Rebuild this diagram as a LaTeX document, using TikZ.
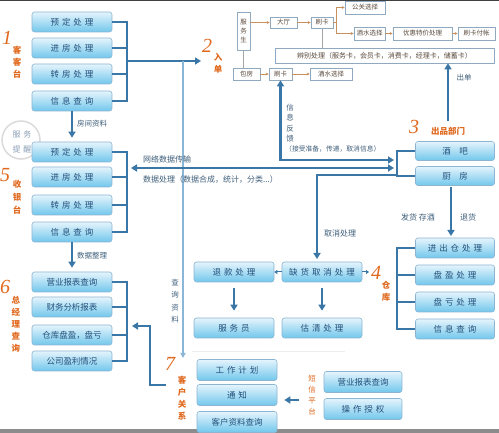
\documentclass[tikz,border=0pt]{standalone}
\usepackage{fontspec}
\usetikzlibrary{arrows.meta,calc}
\newfontfamily\cjk{Noto Sans CJK SC}
\newfontfamily\boxfont[LetterSpace=35]{Noto Sans CJK SC}
\newfontfamily\numfont{Liberation Serif}
\definecolor{lnblue}{HTML}{3A77A6}
\definecolor{bxtop}{HTML}{E4F4FC}
\definecolor{bxbot}{HTML}{72C7EC}
\definecolor{bxdraw}{HTML}{8DB5D2}
\definecolor{bxtext}{HTML}{23507A}
\definecolor{orng}{HTML}{E0691E}
\definecolor{smtext}{HTML}{5B4B3E}
\definecolor{smdraw}{HTML}{8FAAC0}
\definecolor{smarr}{HTML}{C8905E}
\definecolor{lblue}{HTML}{8AB6D8}
\definecolor{lbltext}{HTML}{3F5F7A}
\definecolor{circtext}{HTML}{8A9FB5}
\begin{document}
\begin{tikzpicture}[x=1pt,y=-1pt,
 bx/.style={rectangle,rounded corners=2.5pt,draw=bxdraw,line width=0.6pt,top color=bxtop,bottom color=bxbot,minimum width=80pt,minimum height=20pt,inner sep=0pt,text=bxtext,font=\boxfont\fontsize{8.5}{10}\selectfont},
 bxn/.style={bx,font=\cjk\fontsize{8.5}{10}\selectfont},
 sb/.style={rectangle,draw=smdraw,fill=white,line width=0.6pt,inner sep=1pt,minimum height=12pt,text=smtext,font=\cjk\fontsize{6.5}{9}\selectfont,align=center},
 ln/.style={draw=lnblue,line width=2.2pt},
 ar/.style={ln,-{Triangle[length=6pt,width=7pt]}},
 arr2/.style={ln,{Triangle[length=6pt,width=7pt]}-{Triangle[length=6pt,width=7pt]}},
 tinyar/.style={draw=lnblue,line width=1pt,-{Triangle[length=3pt,width=4pt]}},
 qline/.style={draw=lblue,line width=1.3pt,-{Triangle[length=5pt,width=5pt]}},
 sa/.style={draw=smarr,line width=0.6pt,-{Stealth[length=3pt,width=3pt]}},
 sl/.style={draw=black!35,line width=0.6pt},
 num/.style={text=orng,font=\numfont\itshape\fontsize{20}{20}\selectfont,inner sep=0pt},
 ol/.style={text=orng,font=\cjk\bfseries\fontsize{8.5}{12}\selectfont,inner sep=0pt,align=center},
 olr/.style={text=orng,font=\cjk\fontsize{7.5}{11}\selectfont,inner sep=0pt,align=center},
 lb/.style={text=lbltext,font=\cjk\fontsize{7.5}{11}\selectfont,inner sep=0pt,align=center},
]
\useasboundingbox (0,0) rectangle (499,433);
\fill[white] (0,0) rectangle (499,433);
\fill[black!75] (0,0) rectangle (499,1.5);
\fill[black!45] (0,429) rectangle (499,433);

% service reminder circle
\draw[black!14,line width=1.5pt] (21,140) circle (19);
\node[text=circtext,font=\boxfont\fontsize{8}{10}\selectfont,inner sep=0pt] (cr1) at (22,134) {服务};
\node[text=circtext,font=\boxfont\fontsize{8}{10}\selectfont,inner sep=0pt] (cr2) at (22,149) {提醒};

% group 1
\node[bx] (a1) at (72,22) {预定处理};
\node[bx] (a2) at (72,48) {进房处理};
\node[bx] (a3) at (72,74) {转房处理};
\node[bx] (a4) at (72,101) {信息查询};
\coordinate (b1b) at (127,101);
\coordinate (b1m) at (127,61);
\draw[ln] (a1.east) -| (b1b) -- (a4.east);
\draw[ln] (a2.east) -- (a2.east -| b1m);
\draw[ln] (a3.east) -- (a3.east -| b1m);
\coordinate (in2) at (201,61);
\draw[ar] (b1m) -- (in2);
\node[num] (n1) at (7,38) {1};
\node[ol] (l1) at (17,62) {客\\客\\台};
\node[num] (n2) at (207,46) {2};
\node[ol] (l2) at (218,63) {入\\单};

% query line
\coordinate (q0) at (183,61);
\coordinate (q1) at (183,358);
\draw[qline] (q0) -- (q1);
\node[lb,font=\cjk\fontsize{7.5}{12.5}\selectfont] (qlab) at (175,301) {查\\询\\资\\料};

% group 5
\node[bx] (e1) at (72,152) {预定处理};
\node[bx] (e2) at (72,177) {进房处理};
\node[bx] (e3) at (72,205) {转房处理};
\node[bx] (e4) at (72,232) {信息查询};
\draw[ln] (e1.east) -| (127,232) -- (e4.east);
\draw[ln] (e2.east) -- (e2.east -| b1m);
\draw[ln] (e3.east) -- (e3.east -| b1m);
\draw[ar,shorten >=4pt] (a4.south) -- (e1.north);
\node[lb,anchor=west] (t1) at (77,124) {房间资料};
\node[num] (n5) at (5,175) {5};
\node[ol,font=\cjk\bfseries\fontsize{8.5}{13}\selectfont] (l5) at (17,197) {收\\银\\台};

% group 6
\node[bxn] (f1) at (72,282) {营业报表查询};
\node[bxn] (f2) at (72,307) {财务分析报表};
\node[bxn] (f3) at (72,335) {仓库盘盈，盘亏};
\node[bxn] (f4) at (72,361) {公司盈利情况};
\draw[ln] (f1.east) -| (127,361) -- (f4.east);
\draw[ln] (f2.east) -- (f2.east -| b1m);
\draw[ln] (f3.east) -- (f3.east -| b1m);
\draw[ar,shorten >=4pt] (e4.south) -- (f1.north);
\node[lb,anchor=west] (t2) at (77,256) {数据整理};
\node[num] (n6) at (5,287) {6};
\node[ol] (l6) at (16,324) {总\\经\\理\\查\\询};

% 7 -> 6
\coordinate (g7a) at (166,385);
\coordinate (to6) at (132,326);
\draw[ar] (g7a) -- (150,385) |- (to6);

% group 3
\node[bx,minimum width=79pt,minimum height=19pt] (c1) at (455,151) {酒\quad 吧};
\node[bx,minimum width=79pt,minimum height=19pt] (c2) at (455,176) {厨\quad 房};
\draw[ln] (c1.west) -| (397,176) -- (c2.west);
\node[num] (n3) at (414,127) {3};
\node[ol] (l3) at (448,131) {出品部门};

% top small boxes
\node[sb,minimum width=13pt,minimum height=38pt,inner sep=0pt] (s0) at (243.5,31) {服\\务\\生};
\node[sb,minimum width=27pt,minimum height=11pt] (s1) at (283.5,22.5) {大厅};
\node[sb,minimum width=22pt,minimum height=11pt] (s2) at (322,22.5) {刷卡};
\node[sb,minimum width=40pt,minimum height=13pt] (s3) at (365,7.5) {公关选择};
\node[sb,minimum width=31pt,minimum height=13pt] (s4) at (369.5,33.5) {酒水选择};
\node[sb,minimum width=59pt,minimum height=13pt] (s5) at (422.5,33.5) {优惠特价处理};
\node[sb,minimum width=37pt,minimum height=13pt] (s6) at (476.5,33.5) {刷卡付帐};
\node[sb,minimum width=219pt,minimum height=15pt,font=\cjk\fontsize{7}{9}\selectfont] (s7) at (384.5,55.5) {辨别处理（服务卡，会员卡，消费卡，经理卡，储蓄卡）};
\node[sb,minimum width=27pt,minimum height=12pt] (k0) at (246.5,74) {包房};
\node[sb,minimum width=23pt,minimum height=12pt] (k1) at (280.5,74) {刷卡};
\node[sb,minimum width=42pt,minimum height=12pt] (k2) at (331,74) {酒水选择};
\draw[sa] (s0.east |- s1.west) -- (s1.west);
\draw[sa] (s1.east) -- (s2.west);
\coordinate (fk) at (336,22.5);
\draw[smarr,line width=0.6pt] (s2.east) -- (fk);
\draw[sa] (fk) |- (s3.west);
\draw[sa] (fk) |- (s4.west);
\draw[sa] (s4.east) -- (s5.west);
\draw[sa] (s5.east) -- (s6.west);
\draw[sl] (s2.south) -- (s7.north -| s2.south);
\draw[sl] (s0.south) -- (s0.south |- k0.north);
\draw[sa] (k0.east) -- (k1.west);
\draw[sa] (k1.east) -- (k2.west);

% out-order arrow
\coordinate (cd0) at (448,121);
\draw[ar] (cd0) -- (cd0 |- s7.south);
\node[lb] (t3) at (464,78) {出单};

% three lines to group 3
\coordinate (A1) at (394,160);
\draw[arr2] (k1.south) |- (A1);
\node[lb,font=\cjk\fontsize{7.5}{10.5}\selectfont] (t4) at (290,123) {信\\息\\反\\馈};
\node[lb,anchor=west,font=\cjk\fontsize{6.8}{9}\selectfont] (t5) at (285,149) {（接受准备，传递，取消信息）};
\coordinate (B0) at (131,168);
\coordinate (B1) at (394,168);
\draw[arr2] (B0) -- (B1);
\node[lb,anchor=west,font=\cjk\fontsize{8}{10}\selectfont] (t6) at (143,159) {网络数据传输};
\node[lb,anchor=west,font=\cjk\fontsize{8}{10}\selectfont] (t7) at (143,180) {数据处理（数据合成，统计，分类...）};
\coordinate (C1) at (396,175);
\coordinate (C2) at (317,259);
\draw[ar] (C1) -| (C2);
\node[lb,anchor=west,font=\cjk\fontsize{8}{10}\selectfont] (t8) at (324,233) {取消处理};

% group 4
\node[bx,minimum width=79pt] (h1) at (455,248) {进出仓处理};
\node[bx,minimum width=79pt] (h2) at (455,275) {盘盈处理};
\node[bx,minimum width=79pt] (h3) at (455,302) {盘亏处理};
\node[bx,minimum width=79pt] (h4) at (455,329) {信息查询};
\draw[ln] (h1.west) -| (397,329) -- (h4.west);
\draw[ln] (h2.west) -- (h2.west -| 397,0);
\draw[ln] (h3.west) -- (h3.west -| 397,0);
\coordinate (dk0) at (451,187);
\coordinate (dk1) at (451,236);
\draw[ar] (dk0) -- (dk1);
\node[lb,font=\cjk\fontsize{8}{10}\selectfont] (t9) at (418,217) {发货\ 存酒};
\node[lb,font=\cjk\fontsize{8}{10}\selectfont] (t10) at (468,217) {退货};
\node[num] (n4) at (376,273) {4};
\node[ol] (l4) at (386,291) {仓\\库};

% middle boxes
\node[bx] (d1) at (322,272) {缺货取消处理};
\node[bx] (d0) at (234,272) {退款处理};
\node[bx] (d2) at (234,328) {服务员};
\node[bx] (d3) at (322,328) {估清处理};
\draw[tinyar] (d1.west) -- (d0.east);
\coordinate (to4) at (369,272);
\draw[tinyar] (d1.east) -- (to4);
\draw[ar,shorten <=6pt,shorten >=7pt] (d0.south) -- (d2.north);
\draw[ar,shorten <=6pt,shorten >=7pt] (d1.south) -- (d3.north);
\draw[draw=black!7,line width=1pt] (192,352) -- (345,352);

% group 7
\node[bx,minimum height=21pt] (g1) at (237,370) {工作计划};
\node[bx,minimum height=21pt] (g2) at (237,395) {通知};
\node[bxn,minimum height=21pt] (g3) at (237,422) {客户资料查询};
\node[bxn,minimum width=78pt,minimum height=21pt] (r1) at (363,382) {营业报表查询};
\node[bx,minimum width=78pt,minimum height=21pt] (r2) at (363,409) {操作授权};
\node[olr] (l8) at (312,395) {短\\信\\平\\台};
\coordinate (sx) at (299,400);
\draw[ar,line width=2pt,shorten >=7pt] (sx) -- (sx -| g2.east);
\node[num] (n7) at (170,364) {7};
\node[ol] (l7) at (182,398) {客\\户\\关\\系};
\end{tikzpicture}
\end{document}
